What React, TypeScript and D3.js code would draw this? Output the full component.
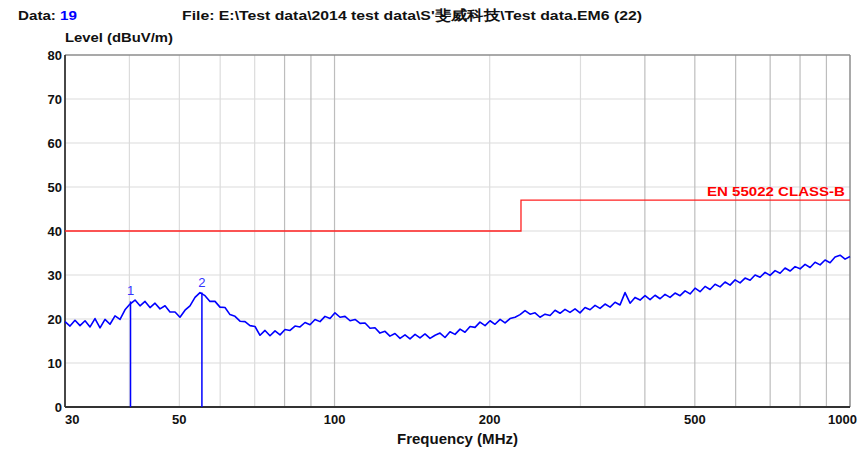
import React from "react";
import * as d3 from "d3";

// Measured trace: frequency (MHz) and level (dBuV/m)
const freqs: number[] = [
  30.0, 30.68, 31.37, 32.08, 32.81, 33.55, 34.3, 35.08, 35.87, 36.68,
  37.51, 38.36, 39.22, 40.11, 41.02, 41.94, 42.89, 43.86, 44.85, 45.86,
  46.9, 47.95, 49.04, 50.14, 51.28, 52.43, 53.62, 54.83, 56.07, 57.33,
  58.63, 59.95, 61.31, 62.69, 64.11, 65.56, 67.04, 68.55, 70.1, 71.69,
  73.31, 74.96, 76.66, 78.39, 80.16, 81.97, 83.82, 85.71, 87.65, 89.63,
  91.65, 93.72, 95.84, 98.0, 100.2, 102.5, 104.8, 107.2, 109.6, 112.1,
  114.6, 117.2, 119.8, 122.5, 125.3, 128.1, 131.0, 134.0, 137.0, 140.1,
  143.3, 146.5, 149.8, 153.2, 156.7, 160.2, 163.8, 167.5, 171.3, 175.2,
  179.1, 183.2, 187.3, 191.5, 195.9, 200.3, 204.8, 209.5, 214.2, 219.0,
  224.0, 229.0, 234.2, 239.5, 244.9, 250.4, 256.1, 261.9, 267.8, 273.8,
  280.0, 286.3, 292.8, 299.4, 306.2, 313.1, 320.2, 327.4, 334.8, 342.4,
  350.1, 358.0, 366.1, 374.4, 382.8, 391.5, 400.3, 409.4, 418.6, 428.1,
  437.7, 447.6, 457.7, 468.1, 478.7, 489.5, 500.5, 511.8, 523.4, 535.2,
  547.3, 559.7, 572.3, 585.2, 598.5, 612.0, 625.8, 640.0, 654.4, 669.2,
  684.3, 699.7, 715.6, 731.7, 748.2, 765.1, 782.4, 800.1, 818.2, 836.6,
  855.5, 874.9, 894.6, 914.8, 935.5, 956.7, 978.3, 1000.0,
];

const levels: number[] = [
  19.4, 18.4, 19.7, 18.5, 19.6, 18.2, 20.1, 18.0, 19.9, 18.8,
  20.7, 19.9, 22.1, 23.4, 24.3, 23.0, 24.0, 22.6, 23.6, 22.3,
  23.0, 21.6, 21.6, 20.4, 22.0, 23.0, 24.9, 26.0, 25.3, 24.0,
  24.0, 22.7, 22.6, 21.0, 20.6, 19.5, 19.4, 18.5, 18.3, 16.3,
  17.4, 16.2, 17.3, 16.4, 17.6, 17.4, 18.4, 18.2, 19.2, 18.7,
  19.9, 19.4, 20.6, 20.1, 21.4, 20.4, 20.6, 19.6, 19.9, 19.0,
  19.1, 17.9, 18.0, 16.8, 17.2, 16.1, 16.7, 15.6, 16.4, 15.5,
  16.5, 15.7, 16.6, 15.6, 16.3, 16.8, 15.8, 17.1, 16.5, 17.7,
  17.0, 18.3, 18.1, 19.3, 18.5, 19.6, 18.8, 19.9, 19.1, 20.1,
  20.4, 21.0, 21.9, 21.1, 21.4, 20.4, 21.1, 20.8, 22.0, 21.3,
  22.2, 21.5, 22.3, 21.4, 22.6, 22.1, 23.1, 22.4, 23.4, 22.7,
  23.8, 23.2, 26.0, 23.6, 24.9, 24.3, 25.3, 24.4, 25.4, 24.6,
  25.6, 24.9, 25.9, 25.3, 26.4, 25.7, 27.0, 26.2, 27.4, 26.7,
  27.9, 27.3, 28.4, 27.7, 28.9, 28.2, 29.3, 28.8, 30.0, 29.5,
  30.6, 29.9, 31.0, 30.4, 31.6, 30.9, 31.9, 31.4, 32.4, 31.7,
  32.9, 32.3, 33.4, 32.8, 34.1, 34.5, 33.6, 34.2,
];

// Limit line EN 55022 class B (frequency, level)
const limitFreqs: number[] = [30, 230, 230, 1000];
const limitLevels: number[] = [40, 40, 47, 47];

// Peak markers
const markerLabels: string[] = ["1", "2"];
const markerFreqs: number[] = [40.2, 55.3];
const markerLevels: number[] = [24.0, 26.0];

const yTicks: number[] = [0, 10, 20, 30, 40, 50, 60, 70, 80];
const xTickLabels: number[] = [30, 50, 100, 200, 500, 1000];
const lightGridFreqs: number[] = [40, 50, 60, 70, 200, 300];
const darkGridFreqs: number[] = [80, 90, 100, 400, 500, 600, 700, 800, 900];

const W = 865;
const H = 451;
const left = 65;
const right = 850;
const top = 55;
const bottom = 407;
const FONT = "'Liberation Sans', Arial, sans-serif";

export default function App() {
  const x = d3.scaleLog().domain([30, 1000]).range([left, right]);
  const y = d3.scaleLinear().domain([0, 80]).range([bottom, top]);

  const trace = d3
    .line<number>()
    .x((_, i) => x(freqs[i]))
    .y((d) => y(d))(levels);

  const limit = d3
    .line<number>()
    .x((_, i) => x(limitFreqs[i]))
    .y((d) => y(d))(limitLevels);

  return (
    <svg
      width={W}
      height={H}
      style={{ position: "absolute", left: 0, top: 0, background: "#fff" }}
      fontFamily={FONT}
    >
      <rect x={0} y={0} width={W} height={H} fill="#fff" />

      {/* header */}
      <text x={18} y={20} fontSize={13.5} fontWeight="bold" fill="#111" textLength={59} lengthAdjust="spacingAndGlyphs">
        Data: <tspan fill="#0000ff">19</tspan>
      </text>
      <text
        x={182}
        y={20}
        fontSize={13.5}
        fontWeight="bold"
        fill="#111"
        textLength={460}
        lengthAdjust="spacingAndGlyphs"
      >
        {"File: E:\\Test data\\2014 test data\\S'斐威科技\\Test data.EM6  (22)"}
      </text>

      {/* grid */}
      {yTicks
        .filter((t) => t > 0 && t < 80)
        .map((t) => (
          <line key={"h" + t} x1={left} x2={right} y1={y(t)} y2={y(t)} stroke="#dcdcdc" strokeWidth={1.2} />
        ))}
      {lightGridFreqs.map((f) => (
        <line key={"lv" + f} x1={x(f)} x2={x(f)} y1={top} y2={bottom} stroke="#dcdcdc" strokeWidth={1.2} />
      ))}
      {darkGridFreqs.map((f) => (
        <line key={"dv" + f} x1={x(f)} x2={x(f)} y1={top} y2={bottom} stroke="#bdbdbd" strokeWidth={1.2} />
      ))}

      {/* frame */}
      <line x1={left} x2={right} y1={top} y2={top} stroke="#8c8c8c" strokeWidth={1.5} />
      <line x1={right} x2={right} y1={top} y2={bottom} stroke="#8c8c8c" strokeWidth={1.5} />
      <line x1={left} x2={left} y1={top} y2={bottom} stroke="#333" strokeWidth={1.8} />
      <line x1={left} x2={right} y1={bottom} y2={bottom} stroke="#333" strokeWidth={1.8} />

      {/* limit */}
      <path d={limit ?? ""} fill="none" stroke="#ff2020" strokeWidth={1.3} />
      <text
        x={707}
        y={196}
        fontSize={13}
        fontWeight="bold"
        fill="#ff0000"
        textLength={138}
        lengthAdjust="spacingAndGlyphs"
      >
        EN 55022 CLASS-B
      </text>

      {/* trace */}
      <path d={trace ?? ""} fill="none" stroke="#0000ff" strokeWidth={1.6} strokeLinejoin="round" />

      {/* markers */}
      {markerFreqs.map((f, i) => (
        <g key={"m" + i}>
          <line x1={x(f)} x2={x(f)} y1={y(markerLevels[i])} y2={bottom} stroke="#0000ff" strokeWidth={1.5} />
          <text x={x(f)} y={y(markerLevels[i]) - 6} textAnchor="middle" fontSize={13} fill="#3333ff">
            {markerLabels[i]}
          </text>
        </g>
      ))}

      {/* y axis */}
      {yTicks.map((t) => (
        <text
          key={"yt" + t}
          x={62}
          y={y(t) + 5}
          textAnchor="end"
          fontSize={13}
          fontWeight="bold"
          fill="#111"
        >
          {t}
        </text>
      ))}
      <text x={65} y={42} fontSize={13.5} fontWeight="bold" fill="#111" textLength={108} lengthAdjust="spacingAndGlyphs">
        Level (dBuV/m)
      </text>

      {/* x axis */}
      {xTickLabels.map((t, i) => (
        <text
          key={"xt" + t}
          x={i === 0 ? left : i === xTickLabels.length - 1 ? 857 : x(t)}
          y={424}
          textAnchor={i === 0 ? "start" : i === xTickLabels.length - 1 ? "end" : "middle"}
          fontSize={13}
          fontWeight="bold"
          fill="#111"
        >
          {t}
        </text>
      ))}
      <text
        x={397}
        y={444}
        fontSize={14}
        fontWeight="bold"
        fill="#111"
        textLength={121}
        lengthAdjust="spacingAndGlyphs"
      >
        Frequency (MHz)
      </text>
    </svg>
  );
}
